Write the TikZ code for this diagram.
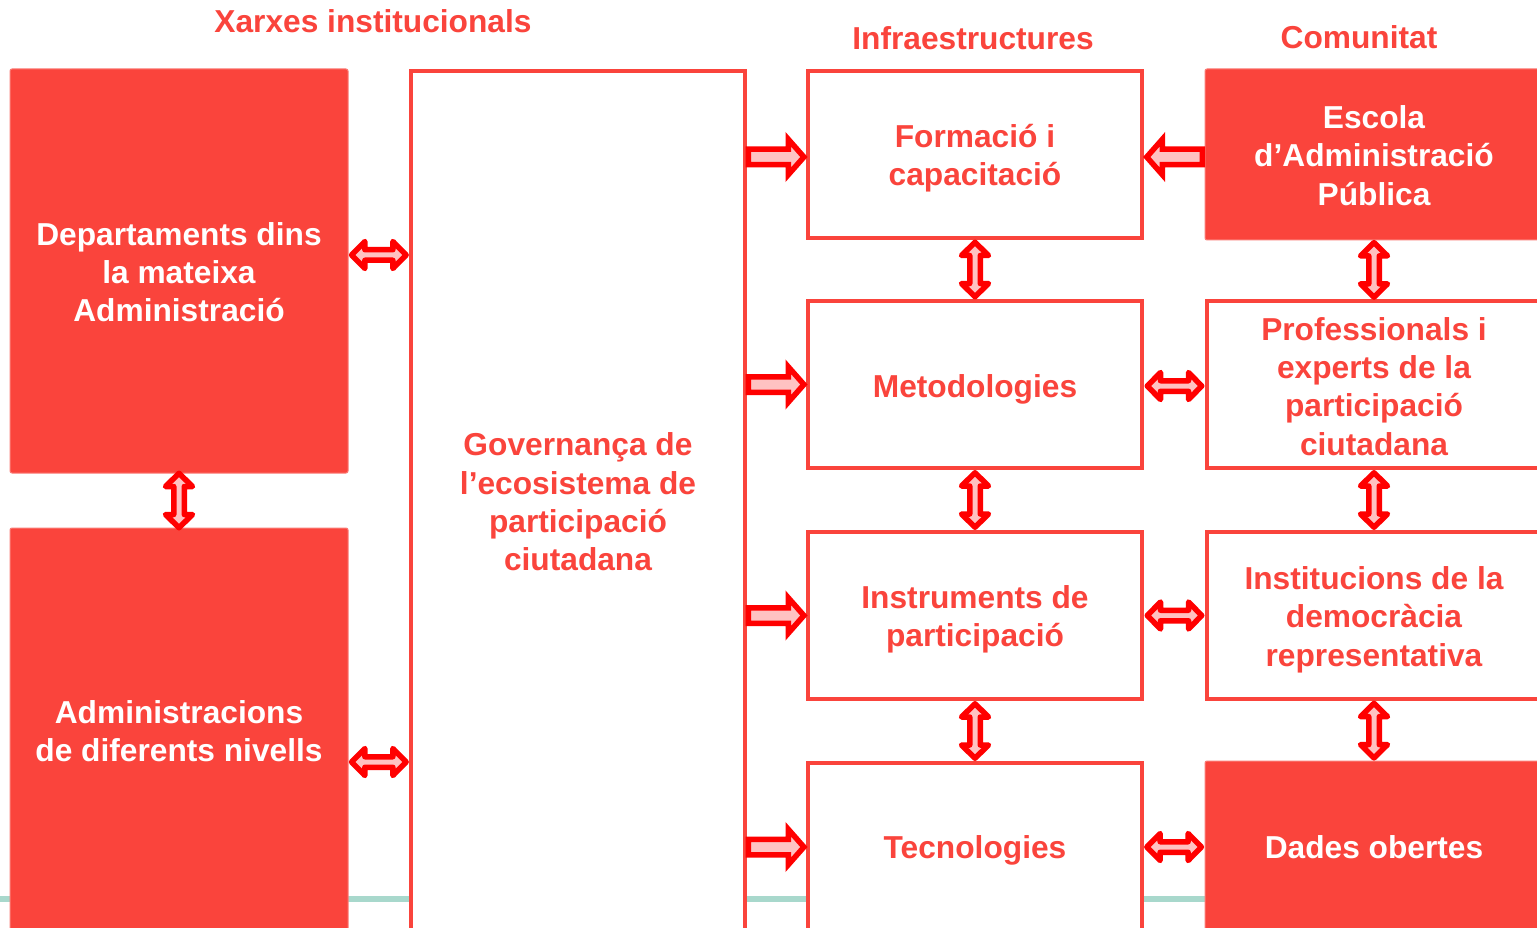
\documentclass[tikz,border=0pt]{standalone}
\usepackage{fontspec}
\setmainfont{Liberation Sans}
\usetikzlibrary{calc}
\definecolor{boxred}{HTML}{FA443C}
\definecolor{arrred}{HTML}{FF0000}
\definecolor{arrfill}{HTML}{FFC2C2}
\definecolor{lineteal}{HTML}{A8D8CC}
\newcommand{\bigfont}{\bfseries\fontsize{31.7}{38.3}\selectfont}
\begin{document}
\begin{tikzpicture}[x=1pt,y=-1pt,
  filled/.style={fill=boxred, draw=boxred!70!white, line width=1pt, rounded corners=2pt, inner sep=0pt},
  outlined/.style={fill=white, draw=boxred, line width=3.5pt, inner sep=0pt},
  whitetext/.style={text=white, font=\bigfont, align=center, inner sep=0pt},
  redtext/.style={text=boxred, font=\bigfont, align=center, inner sep=0pt},
  titletext/.style={text=boxred, font=\bigfont, inner sep=0pt},
  arrowstyle/.style={draw=arrred, fill=arrfill, line width=5.5pt},
  rarrow/.pic={\draw[arrowstyle, line join=miter] (-28.25,-7.75) -- (11.75,-7.75) -- (11.75,-17.75) -- (27.4,0) -- (11.75,17.75) -- (11.75,7.75) -- (-28.25,7.75) -- cycle;},
  darrow/.pic={\draw[arrowstyle, line join=round] (-27.25,0) -- (-14,-13.5) -- (-14,-5.25) -- (14,-5.25) -- (14,-13.5) -- (27.25,0) -- (14,13.5) -- (14,5.25) -- (-14,5.25) -- (-14,13.5) -- cycle;}
]
\useasboundingbox (0,0) rectangle (1537,928);
\clip (0,0) rectangle (1537,928);
\fill[white] (0,0) rectangle (1537,928);
% background line
\draw[lineteal, line width=6pt] (0,899) -- (1537,899);

% titles
\node[titletext] (t1) at (373,21) {Xarxes institucionals};
\node[titletext] (t2) at (973,38) {Infraestructures};
\node[titletext] (t3) at (1359,37) {Comunitat};

% left column
\node[filled, minimum width=338pt, minimum height=404pt] (dept) at (179,271) {};
\node[whitetext] (deptT) at ($(dept.center)+(0,1)$) {Departaments dins\\la mateixa\\Administració};
\node[filled, minimum width=338pt, minimum height=406pt] (admin) at (179,731) {};
\node[whitetext] (adminT) at (admin.center) {Administracions\\de diferents nivells};

% governance
\node[outlined, minimum width=334pt, minimum height=860pt] (gov) at (578,501) {};
\node[redtext] (govT) at ($(gov.center)+(0,1)$) {Governança de\\l’ecosistema de\\participació\\ciutadana};

% infrastructure column
\node[outlined, minimum width=334pt, minimum height=167pt] (form) at (975,154.5) {};
\node[redtext] (formT) at ($(form.center)+(0,4)$) {Formació i\\capacitació};
\node[outlined, minimum width=334pt, minimum height=167pt] (metod) at (975,384.5) {};
\node[redtext] (metodT) at ($(metod.center)+(0,5)$) {Metodologies};
\node[outlined, minimum width=334pt, minimum height=167pt] (instr) at (975,615.5) {};
\node[redtext] (instrT) at ($(instr.center)+(0,4)$) {Instruments de\\participació};
\node[outlined, minimum width=334pt, minimum height=168pt] (tecno) at (975,847) {};
\node[redtext] (tecnoT) at ($(tecno.center)+(0,3)$) {Tecnologies};

% community column
\node[filled, minimum width=338pt, minimum height=171pt] (escola) at (1374,154.5) {};
\node[whitetext] (escolaT) at ($(escola.center)+(0,1)$) {Escola\\d’Administració\\Pública};
\node[outlined, minimum width=334pt, minimum height=167pt] (prof) at (1374,384.5) {};
\node[redtext] (profT) at ($(prof.center)+(0,2)$) {Professionals i\\experts de la\\participació\\ciutadana};
\node[outlined, minimum width=334pt, minimum height=167pt] (inst) at (1374,615.5) {};
\node[redtext] (instT) at ($(inst.center)+(0,4)$) {Institucions de la\\democràcia\\representativa};
\node[filled, minimum width=338pt, minimum height=172pt] (dades) at (1374,847) {};
\node[whitetext] (dadesT) at (dades.center) {Dades obertes};

% arrows: left column
\pic at ($($(dept.east)!0.5!(gov.west|-dept.east)$)+(0,-16)$) {darrow};
\pic at ($($(admin.east)!0.5!(gov.west|-admin.east)$)+(0,31)$) {darrow};
\pic[rotate=90] at ($(dept.south)!0.5!(admin.north)$) {darrow};

% arrows: governance to infrastructures
\pic at ($($(gov.east|-form.west)!0.5!(form.west)$)+(0,2.5)$) {rarrow};
\pic at ($(gov.east|-metod.west)!0.5!(metod.west)$) {rarrow};
\pic at ($(gov.east|-instr.west)!0.5!(instr.west)$) {rarrow};
\pic at ($(gov.east|-tecno.west)!0.5!(tecno.west)$) {rarrow};

% arrows: infrastructures vertical
\pic[rotate=90] at ($(form.south)!0.5!(metod.north)$) {darrow};
\pic[rotate=90] at ($(metod.south)!0.5!(instr.north)$) {darrow};
\pic[rotate=90] at ($(instr.south)!0.5!(tecno.north)$) {darrow};

% arrows: community to infrastructures
\pic[rotate=180] at ($($(form.east)!0.5!(escola.west)$)+(0,2.5)$) {rarrow};
\pic at ($($(metod.east)!0.5!(prof.west)$)+(0,1.5)$) {darrow};
\pic at ($(instr.east)!0.5!(inst.west)$) {darrow};
\pic at ($(tecno.east)!0.5!(dades.west)$) {darrow};

% arrows: community vertical
\pic[rotate=90] at ($(escola.south)!0.5!(prof.north)$) {darrow};
\pic[rotate=90] at ($(prof.south)!0.5!(inst.north)$) {darrow};
\pic[rotate=90] at ($(inst.south)!0.5!(dades.north)$) {darrow};
\end{tikzpicture}
\end{document}
